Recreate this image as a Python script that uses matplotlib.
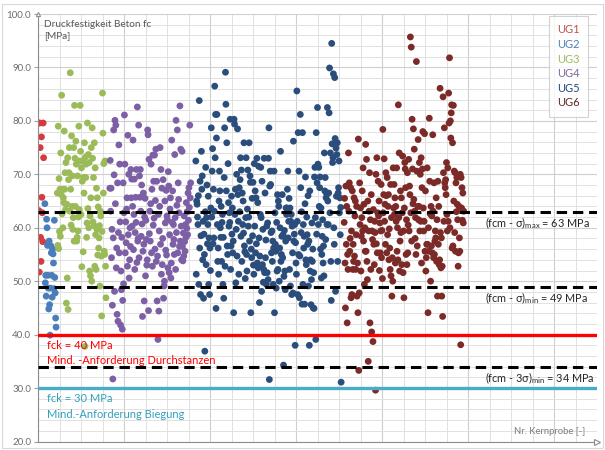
import numpy as np
import matplotlib
matplotlib.use("Agg")
import matplotlib.pyplot as plt
from matplotlib.ticker import MultipleLocator, FormatStrFormatter
from matplotlib.patches import Rectangle

plt.rcParams['font.family'] = ['Lato', 'DejaVu Sans']
plt.rcParams['mathtext.default'] = 'regular'

# Druckfestigkeit je Kernprobe, nach Untersuchungsgebiet (UG) geordnet
ug_names = ["UG1", "UG2", "UG3", "UG4", "UG5", "UG6"]
ug_first = [1, 16, 45, 167, 367, 712]   # Nr. der ersten Kernprobe je UG

ug1 = [79.6, 63.2, 51.7, 79.6, 75.0, 58.2, 53.7, 77.0, 65.7, 62.8, 57.4, 79.6, 73.1]

ug2 = [64.5, 49.7, 51.1, 47.2, 61.6, 60.0, 56.7, 51.1, 48.7, 44.8, 57.5, 45.6,
       39.9, 48.7, 56.6, 55.3, 51.1, 47.0, 56.0, 55.1, 53.4, 48.6, 61.4, 50.7,
       47.8, 43.1, 41.4]

ug3 = [66.5, 56.7, 79.0, 56.1, 69.2, 59.3, 67.2, 58.4, 74.0, 66.2,
       84.8, 62.6, 67.2, 60.0, 65.6, 64.7,
       78.1, 67.2, 70.3, 63.4, 72.2, 45.9, 64.4, 50.6, 73.1, 44.7, 69.0,
       70.3, 75.0, 63.1, 89.0, 67.2, 60.5,
       77.2, 64.0, 69.7, 59.7, 61.9, 75.0, 57.5, 82.9, 73.0, 64.0, 76.2, 71.9, 57.5,
       58.2, 69.7, 59.4, 62.0, 79.0, 63.4,
       72.5, 82.9, 74.3, 62.5, 71.2, 52.7, 68.7, 72.5, 55.5, 69.4, 66.5,
       75.9, 37.8, 73.2, 69.4, 71.9, 58.2, 60.9, 79.6, 63.6,
       73.7, 60.0, 72.2, 51.9, 62.2, 51.0, 65.6, 75.0, 50.0,
       78.7, 73.0, 61.1, 69.4, 60.4, 75.9, 52.8,
       71.2, 58.7, 52.2, 67.4, 59.7, 65.6, 54.9, 63.9, 56.2, 58.1, 60.4, 49.1,
       63.1, 62.2, 54.7, 43.5, 59.3, 85.2, 77.7,
       66.5, 72.0, 55.6, 55.0, 72.5, 52.8, 46.9]

ug4 = [67.4, 72.6, 63.1, 67.4, 54.4, 59.7, 45.5, 31.7, 58.1,
       78.3, 69.9, 48.1, 80.1, 64.5, 79.2, 52.5, 56.2, 43.8, 68.4, 42.5, 59.1,
       75.5, 55.3, 71.9, 61.1, 41.8, 51.9, 48.4, 58.2, 41.0, 46.4,
       68.4, 49.5, 62.8, 81.1, 71.9, 55.3, 61.1, 57.2, 63.5, 65.6, 52.8, 77.3,
       58.7, 70.0, 50.6, 54.0, 60.0, 56.5, 70.9, 65.6,
       69.1, 60.3, 64.0, 76.4, 55.9, 62.5, 69.1, 52.2, 59.1, 65.7, 61.0, 70.9,
       53.5, 82.6, 57.5, 58.0, 79.2, 54.4, 69.7, 65.7,
       70.9, 63.1, 58.4, 68.0, 60.7, 43.4, 55.6, 66.5, 56.9, 46.3, 62.0, 65.5,
       51.0, 61.4, 57.8, 53.0, 54.0,
       78.3, 77.4, 44.5, 72.8, 58.9, 63.1, 57.5, 64.5, 71.9, 55.3, 67.2, 52.8,
       73.6, 60.5, 68.7, 61.8, 73.6, 56.0, 65.1, 74.7, 53.7, 68.7, 46.3,
       54.7, 39.1, 62.5, 44.4, 59.4, 64.0, 75.0, 56.9, 70.9, 51.3, 67.4, 53.1,
       58.0, 69.0, 46.8, 49.1, 50.0, 65.0, 60.9, 55.8, 67.0, 54.9, 62.2, 61.5,
       52.5, 70.5, 67.8, 51.6, 58.7, 63.5, 65.6, 50.6, 53.4, 76.4, 61.0, 66.9,
       56.9, 60.6, 57.8, 55.0, 73.7,
       61.9, 52.2, 80.1, 59.1, 64.2, 78.3, 55.3, 68.4, 65.3, 62.8, 56.5, 82.8,
       57.5, 74.7, 60.3, 54.0, 74.3,
       56.5, 53.8, 59.0, 54.7, 62.2, 57.4, 55.6, 60.6, 58.2, 64.7, 59.9, 63.0,
       58.7, 66.5, 61.4, 67.5, 63.8, 79.2, 65.6, 68.4]

ug5 = [72.5, 51.3, 65.0, 64.4, 62.0, 60.6, 66.0, 49.4, 83.8, 56.2, 68.7, 47.5,
       58.5, 74.3, 67.2, 69.7, 54.0, 61.2,
       46.8, 58.8, 55.0, 36.9, 63.0, 71.3, 53.1, 61.9, 68.0, 57.0, 60.6, 65.9,
       49.4, 58.1, 47.5, 56.2, 52.0, 63.7,
       78.7, 62.0, 70.6, 74.8, 57.0, 67.2, 58.1, 63.1, 86.5, 73.1, 81.2, 44.9,
       76.8, 81.2, 60.6, 53.7, 56.2, 51.3, 65.0, 70.6,
       66.9, 60.0, 58.2, 64.0, 53.7, 61.0, 62.5, 49.4, 58.2, 46.8, 69.4, 78.7,
       52.8, 89.1, 83.1, 66.9, 75.9, 56.6, 55.0, 72.0,
       64.7, 60.3, 62.8, 61.0, 80.3, 52.2, 56.6, 65.9, 58.8, 63.7, 55.3, 57.5,
       44.1, 80.3, 79.4, 62.5, 67.2, 49.7, 59.7, 70.0, 54.7,
       78.5, 66.2, 61.2, 51.3, 67.5, 63.0, 69.0, 73.1, 58.4, 70.8, 53.7, 66.5,
       60.6, 65.0, 59.0, 75.9, 56.6, 55.5, 50.5,
       61.9, 73.1, 55.0, 51.9, 63.5, 70.8, 60.3, 62.0, 75.9, 57.5, 69.7, 68.5,
       44.1, 56.0, 54.4, 65.5, 58.5, 68.5, 53.0, 51.3,
       72.0, 60.3, 66.9, 55.3, 65.6, 57.0, 73.0, 53.4, 64.7, 52.5, 71.5, 58.1,
       46.0, 54.7, 62.5, 71.3, 61.9, 48.1, 68.7, 53.1, 59.7, 49.8, 52.2, 73.0, 51.6,
       66.5, 54.4, 57.7, 49.4, 60.3, 51.6, 60.9, 50.3, 73.0, 78.7, 31.6, 67.8,
       70.6, 68.1, 59.1, 55.3, 59.4, 53.7, 57.5, 49.4, 56.2, 70.6, 44.1, 62.8, 56.9,
       55.6, 48.7, 61.0, 51.9, 66.2, 52.2, 65.0, 64.0, 50.0, 56.2, 60.0, 74.3,
       53.7, 55.0, 58.4, 66.2, 54.4, 58.7, 34.3, 50.9, 59.5, 51.9, 48.4, 57.5,
       63.7, 62.5,
       63.7, 67.2, 70.6, 58.1, 61.2, 65.5, 52.2, 63.7, 49.1, 61.2, 62.5, 47.5,
       60.3, 55.3, 47.8, 76.2, 57.5, 58.8, 60.6, 38.0, 57.2, 53.4, 51.3, 85.6,
       61.2, 47.5, 77.8, 55.0, 70.6, 46.9, 54.7,
       81.2, 67.5, 59.1, 63.0, 45.7, 77.8, 49.4, 60.6, 56.2, 58.4, 45.7, 64.5,
       69.5, 54.0, 53.1, 62.0, 58.7, 56.9, 66.0, 49.1, 57.5, 38.0,
       66.9, 51.9, 54.0, 45.6, 50.3, 60.9, 53.7, 56.0, 45.0, 51.6, 44.9, 69.5,
       71.3, 61.9, 39.1, 77.8, 58.8, 68.4, 82.5, 71.9, 60.6, 71.3, 64.0, 67.5,
       69.5, 56.0, 63.7, 50.6, 55.0, 58.4, 61.5, 53.4, 56.6, 51.0, 74.0, 66.9,
       69.4, 57.8, 65.6, 66.4, 60.6, 82.5, 65.0, 60.6, 66.5, 81.5, 89.9, 62.8,
       74.0, 53.7, 46.4,
       94.5, 75.7, 72.2, 73.1, 88.8, 60.0, 56.9, 88.1, 76.7, 48.1, 74.9, 65.9,
       73.7, 75.9, 53.7, 66.5, 67.5, 72.5, 62.8, 65.6, 58.7, 63.8, 31.1]

ug6 = [61.0, 65.5, 53.4, 45.0, 67.8, 56.9, 64.0, 42.2, 55.0, 52.2, 74.0, 63.1,
       68.4, 55.6, 58.0, 67.5, 46.9, 59.4, 47.5, 66.9, 52.2, 56.9, 53.7,
       65.6, 54.7, 62.2, 65.0, 52.2, 58.7, 64.0, 47.2, 53.4, 44.1, 76.6, 33.3,
       47.8, 68.4, 60.6, 63.7, 51.9, 58.4, 61.9, 66.9, 59.4, 71.2, 57.5,
       64.4, 49.4, 60.0, 55.6, 75.6, 55.6, 72.8, 53.7, 50.3, 65.0, 35.0, 59.4,
       63.1, 70.3, 42.2, 61.5, 52.2, 66.2, 40.5, 59.4, 57.8, 38.7, 63.4, 56.9,
       53.1, 61.2, 59.1, 29.6,
       70.0, 57.0, 73.1, 55.3, 62.8, 68.7, 62.2, 65.0, 52.0, 60.9, 55.3, 59.4,
       68.1, 54.4, 59.5, 50.5, 78.4, 62.8, 66.2,
       72.9, 61.2, 64.4, 56.9, 70.3, 66.0, 55.3, 69.4, 58.7, 64.0, 66.2, 54.0,
       59.8, 56.2, 52.2, 68.1, 51.0, 61.9, 47.2, 54.4, 50.0,
       71.2, 63.7, 68.1, 62.5, 65.6, 53.4, 64.0, 61.2, 71.2, 55.6, 60.0, 54.0,
       83.0, 61.9, 74.0, 51.9, 57.5, 66.9, 59.1, 65.6, 53.1, 62.8, 73.4, 51.6,
       59.4, 46.9, 63.7, 72.2, 71.0,
       67.5, 55.0, 61.5, 53.1, 70.3, 55.3, 60.5, 72.8, 59.4, 67.8, 66.2, 95.7,
       62.8, 93.8, 57.5, 80.3, 71.0, 64.5, 78.5, 65.3, 74.7, 63.1, 58.0, 61.9, 55.0,
       91.1, 70.6, 56.6, 64.0, 76.5, 61.5, 64.0, 72.2, 59.4, 70.0, 61.2, 73.1,
       53.4, 67.5, 71.0, 78.0, 63.7, 59.4, 61.2, 77.6, 55.6, 66.9, 51.9, 54.4, 56.9,
       71.2, 56.9, 44.1, 60.0, 55.6, 80.5, 68.7, 62.6, 50.0, 64.0, 56.6, 62.2,
       55.3, 77.4, 63.1, 54.4, 68.4, 55.0, 57.5, 59.4, 58.1, 65.6, 53.7, 61.5, 47.2,
       68.7, 56.9, 64.0, 53.1, 54.0, 86.1, 59.1, 52.5, 58.1, 47.2, 52.8, 43.4,
       84.5, 70.3, 61.2, 78.7, 68.4, 67.5, 69.0, 66.2, 72.2, 62.5, 59.4, 71.2, 61.2,
       85.2, 79.6, 91.8, 60.0, 80.0, 76.8, 81.5, 83.0, 56.2, 75.9, 56.6, 82.9,
       65.0, 70.6, 59.1, 70.3, 55.6, 68.4, 63.0, 69.4, 64.4, 61.5, 52.8, 55.3,
       64.0, 58.1, 55.6, 70.0, 38.1, 69.4, 63.7, 67.5, 61.4, 66.5, 60.9, 63.1]

ug_values = [ug1, ug2, ug3, ug4, ug5, ug6]
ug_colors = ["#d8393c", "#4a7ebb", "#9bbb59", "#7d5fa5", "#2a4d7b", "#7b2a28"]
ug_text_colors = ["#c0504d", "#4f81bd", "#9bbb59", "#8064a2", "#1f497d", "#632523"]

# Kennwerte (fcm - k*sigma)
ref_values = [63, 49, 34]
ref_labels = ["(fcm - σ)$_{max}$ = 63 MPa",
              "(fcm - σ)$_{min}$ = 49 MPa",
              "(fcm - 3σ)$_{min}$ = 34 MPa"]

# Mindestanforderungen fck
fck_values = [40, 30]
fck_colors = ["#ff0000", "#4bacc6"]
fck_text_colors = ["#ff0000", "#31a0bb"]
fck_texts = ["Mind. -Anforderung Durchstanzen", "Mind.-Anforderung Biegung"]

XMAX = 1300

fig = plt.figure(figsize=(6.05, 4.5), dpi=100)
ax = fig.add_axes([38 / 605, 1 - 441.5 / 450, 559 / 605, 427.5 / 450])

for name, first, vals, col in zip(ug_names, ug_first, ug_values, ug_colors):
    x = first + np.arange(len(vals))
    ax.scatter(x, vals, s=24, color=col, edgecolors="none", label=name, zorder=2)

for val, lab in zip(ref_values, ref_labels):
    ax.axhline(val, color="black", lw=2.2, ls=(0, (3.4, 1.9)), zorder=3)
    ax.text(1040, val - 2.1, lab, fontsize=7.8, color="#262626",
            ha="left", va="center", zorder=4)

for val, col, tcol, txt in zip(fck_values, fck_colors, fck_text_colors, fck_texts):
    ax.axhline(val, color=col, lw=2.4, zorder=3)
    ax.text(21, val - 2.0, f"fck = {val} MPa", fontsize=8, color=tcol,
            ha="left", va="center", zorder=4)
    ax.text(21, val - 4.9, txt, fontsize=8, color=tcol,
            ha="left", va="center", zorder=4)

ax.set_xlim(0, XMAX)
ax.set_ylim(20, 100)
ax.xaxis.set_major_locator(MultipleLocator(200))
ax.xaxis.set_minor_locator(MultipleLocator(50))
ax.yaxis.set_major_locator(MultipleLocator(10))
ax.yaxis.set_minor_locator(MultipleLocator(2))
ax.yaxis.set_major_formatter(FormatStrFormatter("%.1f"))
ax.tick_params(axis="x", which="both", length=0, labelbottom=False)
ax.tick_params(axis="y", which="major", length=3, color="#a0a0a0",
               labelsize=7, labelcolor="#6d6d6d", pad=2)
ax.tick_params(axis="y", which="minor", length=0)

ax.set_axisbelow(True)
ax.grid(which="major", color="#cfcfcf", lw=0.8)
ax.grid(which="minor", color="#e1e1e1", lw=0.7)

for side in ["top", "right"]:
    ax.spines[side].set_visible(False)
for side in ["left", "bottom"]:
    ax.spines[side].set_color("#8c8c8c")
    ax.spines[side].set_linewidth(0.8)

# Pfeilspitzen an den Achsen
ax.plot(1.0, 0.0, marker=">", ms=4, mfc="white", mec="#8c8c8c", mew=0.8,
        transform=ax.transAxes, clip_on=False, zorder=5)
ax.plot(0.0, 1.0, marker="^", ms=3, mfc="white", mec="#8c8c8c", mew=0.8,
        transform=ax.transAxes, clip_on=False, zorder=5)

ax.text(14, 97.0, "Druckfestigkeit Beton fc\n[MPa]", fontsize=7.2,
        color="#595959", ha="left", va="center", linespacing=1.3)
ax.text(1272, 21.8, "Nr. Kernprobe [-]", fontsize=6.8, color="#7f7f7f",
        ha="right", va="center")

leg = ax.legend(loc="upper right", bbox_to_anchor=(0.984, 0.995),
                borderaxespad=0, handlelength=0, handletextpad=0,
                labelspacing=0.32, borderpad=0.75, fontsize=8, frameon=True,
                fancybox=False, edgecolor="#c8c8c8", labelcolor=ug_text_colors)
leg.get_frame().set_linewidth(0.8)
for h in leg.legend_handles:
    h.set_visible(False)

fig.patches.append(Rectangle((2 / 605, 2 / 450), 601 / 605, 444 / 450,
                             transform=fig.transFigure, fill=False,
                             edgecolor="#d9d9d9", lw=0.8))

fig.savefig("out.png", dpi=100)
